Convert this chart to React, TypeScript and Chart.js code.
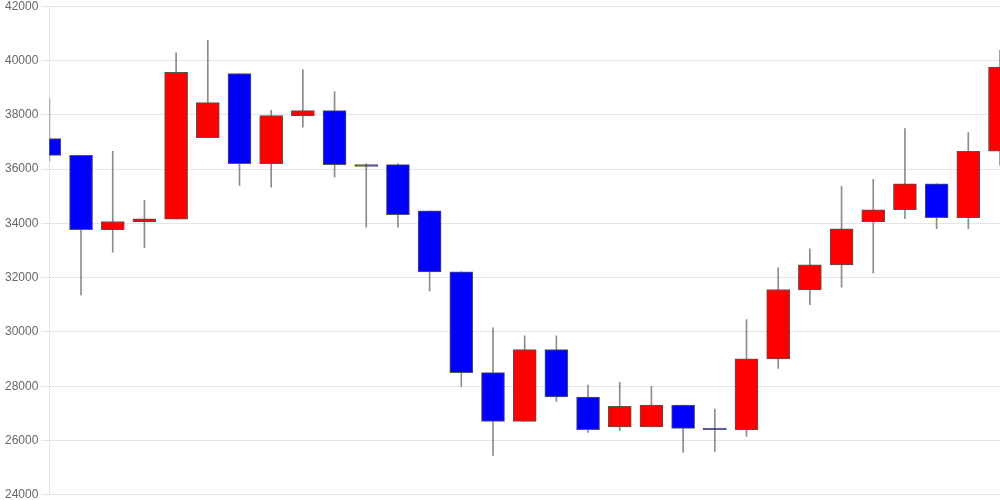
import React, { useEffect, useRef } from "react";
import { Chart, registerables } from "chart.js";

Chart.register(...registerables);

const labels: string[] = [
  "1", "2", "3", "4", "5", "6", "7", "8", "9", "10",
  "11", "12", "13", "14", "15", "16", "17", "18", "19", "20",
  "21", "22", "23", "24", "25", "26", "27", "28", "29", "30", "31",
];

const openValues: number[] = [
  37120, 36504, 33763, 34050, 34155, 37157, 39517, 36198, 37954, 38153,
  36161, 36161, 34464, 32214, 28500, 26704, 29348, 27604, 26497, 26497,
  27309, 26450, 26398, 29005, 31551, 32473, 34059, 34501, 35460, 34206, 36663,
];
const highValues: number[] = [
  38595, 36504, 36652, 34844, 40278, 40746, 39517, 38164, 39665, 38854,
  36198, 36198, 34464, 32214, 30149, 29854, 29854, 28046, 28142, 27995,
  27309, 27161, 30455, 32362, 33063, 35361, 35619, 37489, 35460, 37341, 40377,
];
const lowValues: number[] = [
  36294, 31366, 32938, 33100, 34155, 37157, 35400, 35335, 37548, 35704,
  33860, 33860, 31499, 27995, 25450, 26704, 27442, 26298, 26361, 26497,
  25560, 25597, 26151, 28659, 31008, 31646, 32163, 34169, 33800, 33800, 36135,
];
const closeValues: number[] = [
  36504, 33763, 34070, 34169, 39566, 38448, 36198, 37968, 38153, 36161,
  36100, 34317, 32214, 28500, 26704, 29348, 27604, 26398, 27257, 27309,
  26446, 26400, 29005, 31562, 32473, 33800, 34501, 35460, 34206, 36652, 39761,
];

const UP_COLOR = "#ff0000";
const DOWN_COLOR = "#0000ff";

export default function App() {
  const canvasRef = useRef<HTMLCanvasElement | null>(null);

  useEffect(() => {
    if (!canvasRef.current) return;
    const bodies = labels.map((_, i) => [openValues[i], closeValues[i]]);
    const wicks = labels.map((_, i) => [lowValues[i], highValues[i]]);
    const colors = labels.map((_, i) =>
      closeValues[i] >= openValues[i] ? UP_COLOR : DOWN_COLOR
    );

    const chart = new Chart(canvasRef.current, {
      type: "bar",
      data: {
        labels,
        datasets: [
          {
            label: "wick",
            data: wicks as any,
            backgroundColor: "#8c8c8c",
            borderWidth: 0,
            barThickness: 1,
            grouped: false,
            order: 2,
          } as any,
          {
            label: "body",
            data: bodies as any,
            backgroundColor: colors,
            borderColor: "#555555",
            borderWidth: 1,
            borderSkipped: false,
            barThickness: 23,
            grouped: false,
            order: 1,
          } as any,
        ],
      },
      options: {
        responsive: false,
        animation: false,
        layout: { padding: { left: 2, right: 0, top: 0, bottom: 0 } },
        plugins: {
          legend: { display: false },
          tooltip: { enabled: false },
        },
        scales: {
          x: {
            type: "category",
            offset: false,
            display: false,
          },
          y: {
            min: 24000,
            max: 42000,
            ticks: {
              stepSize: 2000,
              color: "#666666",
              font: { family: "'Liberation Sans', Arial, sans-serif", size: 12 },
              callback: (v: any) => String(v),
            },
            grid: { color: "rgba(0,0,0,0.1)" },
          },
        },
      },
    });
    return () => chart.destroy();
  }, []);

  return (
    <div style={{ position: "absolute", left: 0, top: 0, width: 1000, height: 500, overflow: "hidden" }}>
      <canvas
        ref={canvasRef}
        width={1000}
        height={509}
        style={{ position: "absolute", left: 0, top: -4 }}
      />
    </div>
  );
}
